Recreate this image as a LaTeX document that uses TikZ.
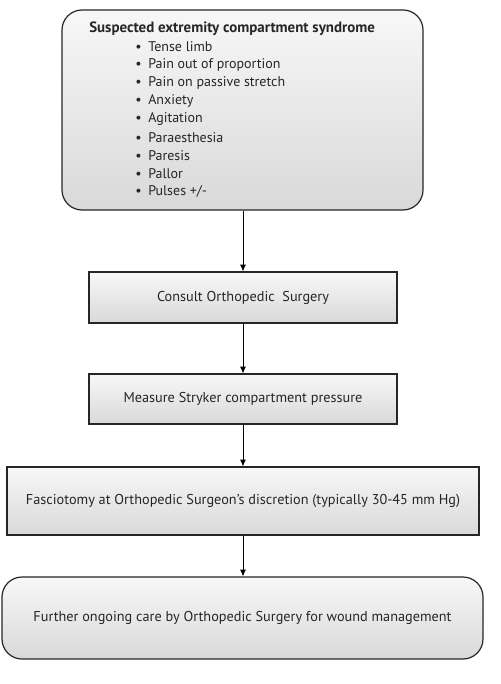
\documentclass[tikz,border=0pt]{standalone}
\usepackage{fontspec}
\setmainfont{PT Sans}
\usetikzlibrary{arrows.meta}
\tikzset{
  box/.style={draw=black!85, line width=0.9pt, top color=gray!6, bottom color=gray!30, inner sep=0pt, font=\fontsize{10.7}{12}\selectfont, text=black!85},
  rbox/.style={box, rounded corners=15pt},
  item/.style={anchor=west, inner sep=0pt, font=\fontsize{10.5}{12}\selectfont, text=black!85},
  conn/.style={line width=0.7pt, -{Latex[length=5pt,width=4.5pt]}},
}
\begin{document}
\begin{tikzpicture}[x=0.75pt,y=-0.75pt]
\useasboundingbox (0,0) rectangle (500,684);
\node[rbox, minimum width=270.75pt, minimum height=150pt] (top) at (242.5,110) {};
\node[item, font=\fontsize{11.2}{12}\selectfont\bfseries] (head) at (89,29) {Suspected extremity compartment syndrome};
\foreach \t [count=\i] in {Tense limb,Pain out of proportion,Pain on passive stretch,Anxiety,Agitation,Paraesthesia,Paresis,Pallor,Pulses +/-}{
  \node[item] (b\i) at (135,{29+18.1*\i}) {\textbullet\hspace{5pt}\t};
}
\node[box, minimum width=231pt, minimum height=38.25pt] (consult) at (243,297.5) {Consult Orthopedic\ \ Surgery};
\node[box, minimum width=231pt, minimum height=37.5pt] (measure) at (243,399) {Measure Stryker compartment pressure};
\node[box, minimum width=354pt, minimum height=51pt] (fascio) at (243,501) {Fasciotomy at Orthopedic Surgeon’s discretion (typically 30-45 mm Hg)};
\node[rbox, minimum width=360.75pt, minimum height=61.5pt] (further) at (242.5,618) {Further ongoing care by Orthopedic Surgery for wound management};
\draw[conn] (top.south -| consult.north) -- (consult.north);
\draw[conn] (consult) -- (measure);
\draw[conn] (measure) -- (fascio);
\draw[conn] (fascio.south) -- (fascio.south |- further.north);
\end{tikzpicture}
\end{document}
